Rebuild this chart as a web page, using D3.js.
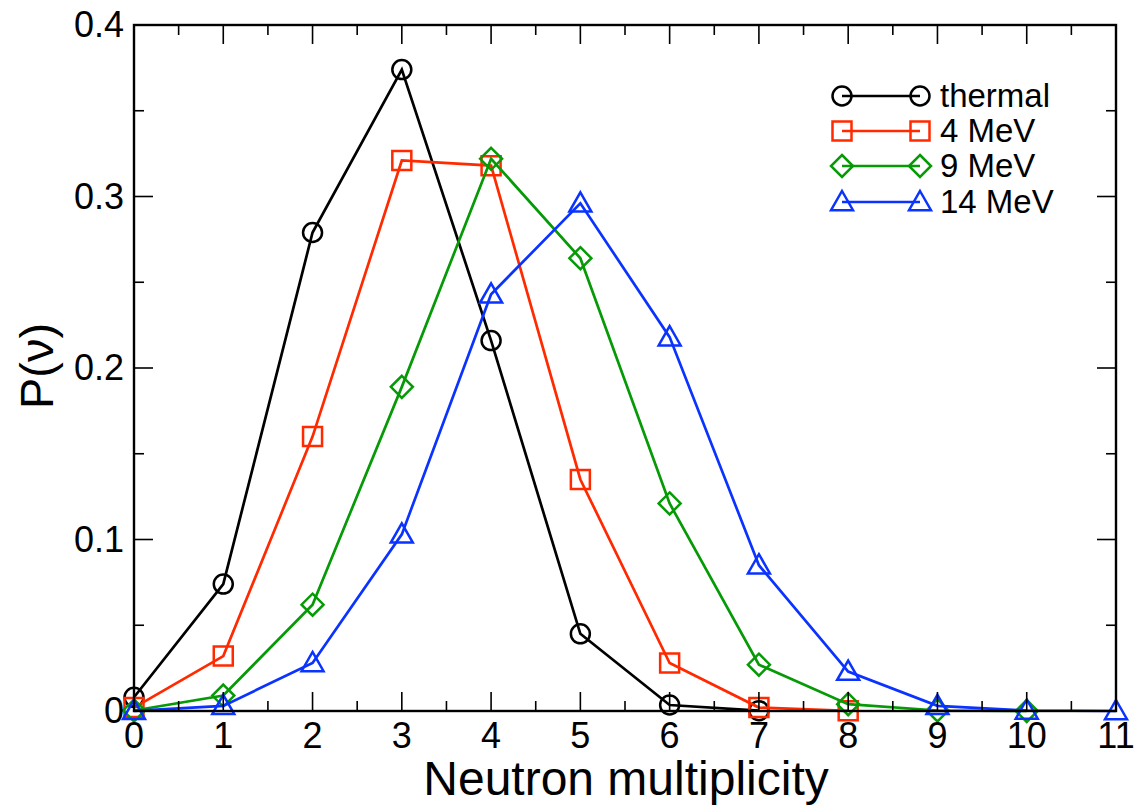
<!DOCTYPE html>
<html><head><meta charset="utf-8">
<script src="https://cdn.jsdelivr.net/npm/d3@7"></script>
<style>body{margin:0;background:#fff}svg{display:block}text{font-family:"Liberation Sans",Arial,sans-serif;fill:#000}</style>
</head><body><svg id="c" width="1137" height="806"></svg>
<script>
const nu = [0,1,2,3,4,5,6,7,8,9,10,11];
const thermal = [0.008,0.074,0.279,0.374,0.216,0.045,0.0035,0.0002];
const mev4 = [0.002,0.032,0.160,0.321,0.318,0.135,0.028,0.002,0.0001];
const mev9 = [0.0003,0.009,0.062,0.189,0.322,0.264,0.121,0.027,0.004,0.0003,0.0];
const mev14 = [0.0001,0.003,0.028,0.103,0.243,0.296,0.218,0.085,0.023,0.003,0.0003,0.0];
const seriesNames = ["thermal","4 MeV","9 MeV","14 MeV"];
const xTicks = [0,1,2,3,4,5,6,7,8,9,10,11];
const yTicks = [0,0.1,0.2,0.3,0.4];
const yTickLabels = ["0","0.1","0.2","0.3","0.4"];

const colors = ["#000000","#ff2a00","#069a06","#0a33ff"];
const symbols = ["circle","square","diamond","triangle"];
const data = [thermal,mev4,mev9,mev14];

const svg = d3.select("#c");
const L=134,R=1116,T=25,B=711;
const x = d3.scaleLinear().domain([0,11]).range([L,R]);
const y = d3.scaleLinear().domain([0,0.4]).range([B,T]);

function marker(g, type, cx, cy, color){
  const s = g.append("path").attr("fill","none").attr("stroke",color).attr("stroke-width",2.5);
  let d;
  if(type==="circle"){ const r=9.5; d=`M${cx-r},${cy}a${r},${r} 0 1,0 ${2*r},0a${r},${r} 0 1,0 ${-2*r},0`; }
  else if(type==="square"){ const h=9.5; d=`M${cx-h},${cy-h}h${2*h}v${2*h}h${-2*h}Z`; }
  else if(type==="diamond"){ const h=11; d=`M${cx},${cy-h}L${cx+h},${cy}L${cx},${cy+h}L${cx-h},${cy}Z`; }
  else { const h=11; d=`M${cx},${cy-h}L${cx+h},${cy+h*0.75}L${cx-h},${cy+h*0.75}Z`; }
  s.attr("d",d);
}

data.forEach((vals,i)=>{
  const g = svg.append("g");
  const line = d3.line().x((d,j)=>x(nu[j])).y(d=>y(d));
  g.append("path").datum(vals).attr("d",line).attr("fill","none").attr("stroke",colors[i]).attr("stroke-width",2.7);
  vals.forEach((v,j)=>marker(g,symbols[i],x(nu[j]),y(v),colors[i]));
});

svg.append("rect").attr("x",L).attr("y",T).attr("width",R-L).attr("height",B-T).attr("fill","none").attr("stroke","#000").attr("stroke-width",2.4);

const xMinor = d3.range(0.5,11,1);
const yMinor = [0.05,0.15,0.25,0.35];
const tg = svg.append("g").attr("stroke","#000").attr("stroke-width",1.6);
xTicks.forEach(t=>{ tg.append("line").attr("x1",x(t)).attr("x2",x(t)).attr("y1",B).attr("y2",B-19);
  tg.append("line").attr("x1",x(t)).attr("x2",x(t)).attr("y1",T).attr("y2",T+19);});
xMinor.forEach(t=>{ tg.append("line").attr("x1",x(t)).attr("x2",x(t)).attr("y1",B).attr("y2",B-10);
  tg.append("line").attr("x1",x(t)).attr("x2",x(t)).attr("y1",T).attr("y2",T+10);});
yTicks.forEach(t=>{ tg.append("line").attr("y1",y(t)).attr("y2",y(t)).attr("x1",L).attr("x2",L+19);
  tg.append("line").attr("y1",y(t)).attr("y2",y(t)).attr("x1",R).attr("x2",R-19);});
yMinor.forEach(t=>{ tg.append("line").attr("y1",y(t)).attr("y2",y(t)).attr("x1",L).attr("x2",L+10);
  tg.append("line").attr("y1",y(t)).attr("y2",y(t)).attr("x1",R).attr("x2",R-10);});

xTicks.forEach(t=>svg.append("text").attr("x",x(t)).attr("y",748).attr("text-anchor","middle").attr("font-size",36).text(String(t)));
yTicks.forEach((t,i)=>svg.append("text").attr("x",124).attr("y",y(t)+12).attr("text-anchor","end").attr("font-size",36).text(yTickLabels[i]));

svg.append("text").attr("x",626).attr("y",795).attr("text-anchor","middle").attr("font-size",48).text("Neutron multiplicity");
svg.append("text").attr("transform","translate(53,366) rotate(-90)").attr("text-anchor","middle").attr("font-size",47).text("P(ν)");

const ly=[96,131,166,202];
seriesNames.forEach((n,i)=>{
  const g=svg.append("g");
  g.append("line").attr("x1",842).attr("x2",920).attr("y1",ly[i]).attr("y2",ly[i]).attr("stroke",colors[i]).attr("stroke-width",2.7);
  marker(g,symbols[i],842,ly[i],colors[i]);
  marker(g,symbols[i],920,ly[i],colors[i]);
  g.append("text").attr("x",940).attr("y",ly[i]+11).attr("font-size",33).text(n);
});
</script></body></html>
